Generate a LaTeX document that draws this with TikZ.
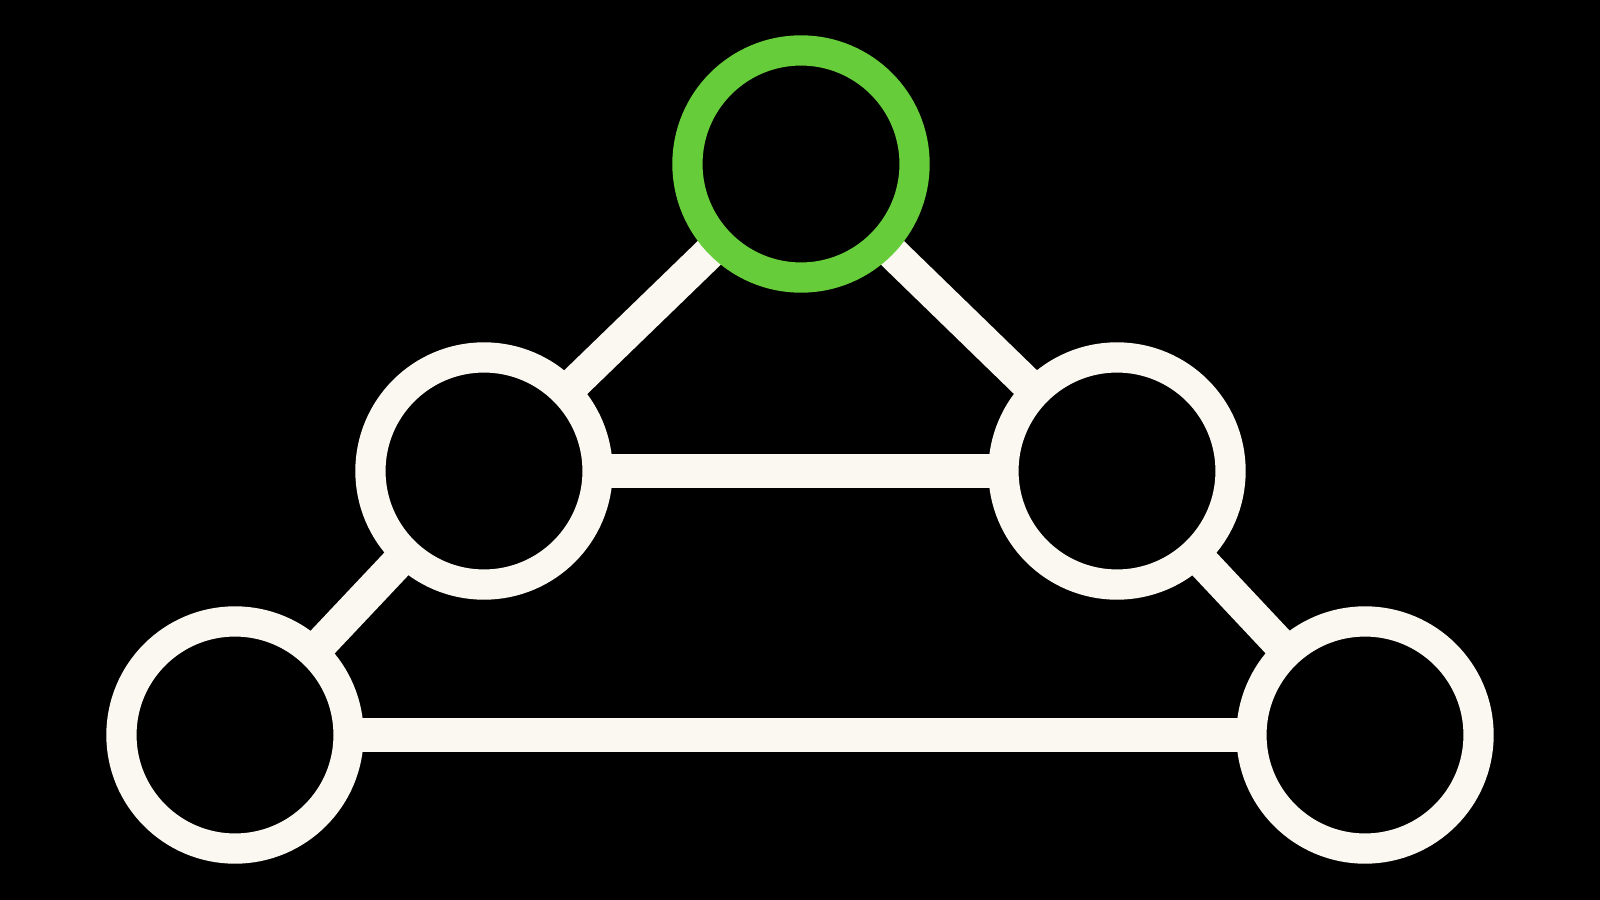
\documentclass[tikz,border=0pt]{standalone}
\usetikzlibrary{backgrounds}
\definecolor{ringwhite}{HTML}{FAF8F0}
\definecolor{ringgreen}{HTML}{66CC3A}
\tikzset{
  vertex/.style={circle,draw=ringwhite,fill=black,line width=8.6pt,inner sep=0pt,minimum size=2.27cm},
  rootvertex/.style={vertex,draw=ringgreen},
  link/.style={draw=ringwhite,line width=9.4pt}
}
\begin{document}
\begin{tikzpicture}[x=0.01cm,y=-0.01cm]
\node[rootvertex] (top) at (801,164) {};
\node[vertex] (midL) at (484,471) {};
\node[vertex] (midR) at (1117,471) {};
\node[vertex] (botL) at (235,735) {};
\node[vertex] (botR) at (1365,735) {};
\begin{scope}[on background layer]
\fill[black] (0,0) rectangle (1600,900);
\draw[link] (top.center) -- (midL.center);
\draw[link] (top.center) -- (midR.center);
\draw[link] (midL.center) -- (midR.center);
\draw[link] (midL.center) -- (botL.center);
\draw[link] (midR.center) -- (botR.center);
\draw[link] (botL.center) -- (botR.center);
\end{scope}
\end{tikzpicture}
\end{document}
